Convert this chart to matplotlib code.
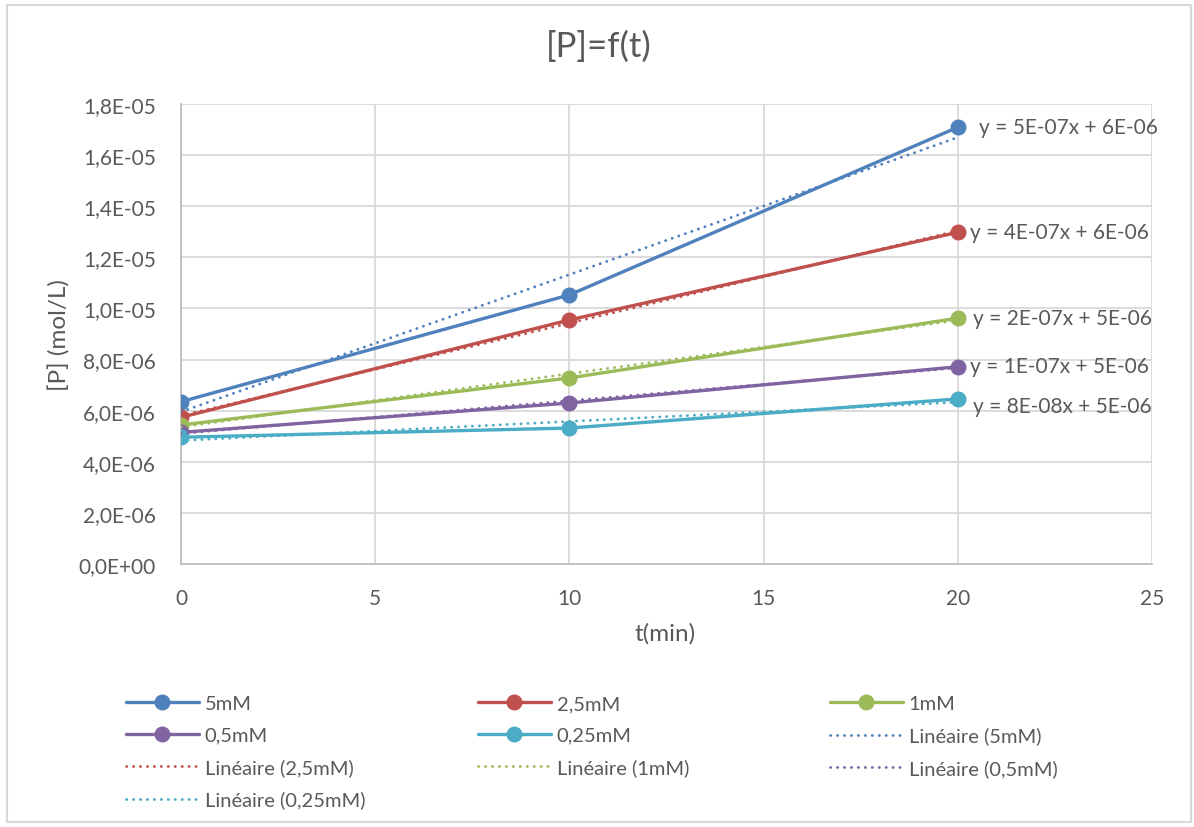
import matplotlib
matplotlib.use("Agg")
import matplotlib.pyplot as plt
import numpy as np
from matplotlib.patches import Rectangle
from matplotlib.ticker import FuncFormatter

# ---- data ----
t_min = [0, 10, 20]
series_names = ["5mM", "2,5mM", "1mM", "0,5mM", "0,25mM"]
p_5mM = [6.35e-6, 10.53e-6, 17.09e-6]
p_2_5mM = [5.74e-6, 9.55e-6, 12.98e-6]
p_1mM = [5.44e-6, 7.28e-6, 9.62e-6]
p_0_5mM = [5.15e-6, 6.30e-6, 7.72e-6]
p_0_25mM = [4.96e-6, 5.32e-6, 6.46e-6]
equations = ["y = 5E-07x + 6E-06", "y = 4E-07x + 6E-06", "y = 2E-07x + 5E-06",
             "y = 1E-07x + 5E-06", "y = 8E-08x + 5E-06"]
x_ticks = [0, 5, 10, 15, 20, 25]
y_ticks = [0, 2e-6, 4e-6, 6e-6, 8e-6, 1e-5, 1.2e-5, 1.4e-5, 1.6e-5, 1.8e-5]

colors = ["#4F81BD", "#C0504D", "#9BBB59", "#8064A2", "#4BACC6"]
eq_offsets = [(21, 0), (12, 0), (15, 0), (12, 1), (15, -7)]
TXT = "#595959"
FONT = ["Lato", "DejaVu Sans"]
plt.rcParams["font.family"] = FONT

W, H = 1194, 828
fig = plt.figure(figsize=(W / 100, H / 100), dpi=100)
ax = fig.add_axes([181 / W, 1 - 565 / H, (1152 - 181) / W, (565 - 105) / H])

all_series = [p_5mM, p_2_5mM, p_1mM, p_0_5mM, p_0_25mM]
data_handles = []
trend_handles = []
tx = np.array(t_min, dtype=float)
for name, ys, c, eq, off in zip(series_names, all_series, colors, equations, eq_offsets):
    h, = ax.plot(t_min, ys, color=c, lw=2.4, marker="o", ms=10.5, label=name,
                 zorder=3, solid_capstyle="round")
    data_handles.append(h)
    k, b = np.polyfit(tx, np.array(ys), 1)
    tt = np.array([tx.min(), tx.max()])
    th, = ax.plot(tt, k * tt + b, color=c, lw=2.0, linestyle=(0, (0.1, 2.4)),
                  dash_capstyle="round", label=f"Linéaire ({name})", zorder=4)
    trend_handles.append(th)
    ax.annotate(eq, xy=(t_min[-1], ys[-1]), xytext=off, textcoords="offset pixels",
                ha="left", va="center", fontsize=15, color=TXT, zorder=5,
                annotation_clip=False)

ax.set_xlim(0, 25)
ax.set_ylim(0, 1.8e-5)
ax.set_xticks(x_ticks)
ax.set_yticks(y_ticks)


def fmt(v, pos):
    return f"{v:.1E}".replace(".", ",")


ax.yaxis.set_major_formatter(FuncFormatter(fmt))
ax.grid(True, color="#d9d9d9", lw=1.3)
ax.set_axisbelow(True)
for s in ["top", "right"]:
    ax.spines[s].set_visible(False)
for s in ["left", "bottom"]:
    ax.spines[s].set_color("#bfbfbf")
    ax.spines[s].set_linewidth(1.3)
ax.tick_params(length=0, labelsize=15, colors=TXT)
ax.tick_params(axis="y", pad=18)
ax.tick_params(axis="x", pad=17)

fig.text(665 / W, 1 - 634 / H, "t(min)", ha="center", va="center", fontsize=17.5, color=TXT)
fig.text(60 / W, 1 - 335 / H, "[P] (mol/L)", ha="center", va="center", rotation=90,
         fontsize=17.5, color=TXT)
fig.text(599 / W, 1 - 47 / H, "[P]=f(t)", ha="center", va="center", fontsize=25, color=TXT)

# legend: three fixed-width columns, rows filled left to right
col1 = [data_handles[0], data_handles[3], trend_handles[1], trend_handles[4]]
col2 = [data_handles[1], data_handles[4], trend_handles[2]]
col3 = [data_handles[2], trend_handles[0], trend_handles[3]]
for hs, x0 in zip([col1, col2, col3], [118, 470, 822]):
    fig.legend(handles=hs, labels=[h.get_label() for h in hs], ncol=1,
               loc="upper left", bbox_to_anchor=(x0 / W, 1 - 688 / H),
               frameon=False, fontsize=14.5, handlelength=3.6, handletextpad=0.3,
               labelspacing=0.72, labelcolor=TXT, borderaxespad=0)

fig.patches.append(Rectangle((7 / W, 1 - 823 / H), (1191 - 7) / W, (823 - 6) / H,
                             transform=fig.transFigure, fill=False,
                             edgecolor="#d9d9d9", lw=1.5))

fig.savefig("out.png", dpi=100)
